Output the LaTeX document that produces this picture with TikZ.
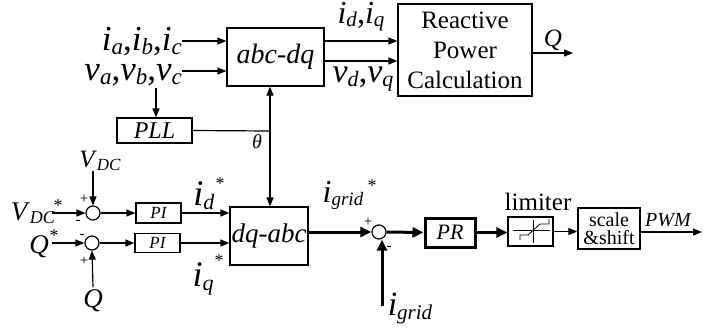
\documentclass[tikz,border=0pt]{standalone}
\usepackage{fontspec}
\setmainfont{Liberation Serif}
\usetikzlibrary{arrows.meta,calc}
\newcommand{\vsub}[3][22]{\textit{#2}\raisebox{-0.12em}{\fontsize{#1}{#1}\selectfont\textit{#3}}}
\begin{document}
\begin{tikzpicture}[x=1pt,y=-1pt,
  blk/.style={draw,line width=1.2pt,minimum width=#1,inner sep=0pt},
  sumc/.style={draw,circle,line width=1.2pt,minimum size=14pt,inner sep=0pt},
  conn/.style={line width=1.2pt,-{Triangle[length=9pt,width=7pt]}},
  thk/.style={line width=3pt,-{Triangle[length=11pt,width=10pt]}},
  lbl/.style={inner sep=0pt},
  sgn/.style={inner sep=0pt,font=\fontsize{15}{15}\selectfont}]
\useasboundingbox (0,0) rectangle (727,330);
% blocks
\node[blk=97pt,minimum height=58pt,font=\fontsize{28}{28}\selectfont\itshape] (abc) at (275.5,57) {abc-dq};
\node[blk=134pt,minimum height=92pt,align=center,font=\fontsize{25}{30}\selectfont] (rpc) at (465,50) {Reactive\\Power\\Calculation};
\node[blk=75pt,minimum height=25pt,font=\fontsize{24}{24}\selectfont\itshape] (pll) at (154.5,130.5) {PLL};
\node[blk=78pt,minimum height=58pt,font=\fontsize{27}{27}\selectfont\itshape] (dq) at (269,236) {dq-abc};
\node[sumc] (s1) at (93,213) {};
\node[sumc] (s2) at (92,243) {};
\node[blk=45pt,minimum height=20pt,font=\fontsize{17}{17}\selectfont\itshape] (pi1) at (158.5,213) {PI};
\node[blk=45pt,minimum height=19pt,font=\fontsize{17}{17}\selectfont\itshape] (pi2) at (157.5,243) {PI};
\node[sumc] (s3) at (379,232) {};
\node[blk=50pt,minimum height=29pt,line width=3pt,font=\fontsize{22}{22}\selectfont\itshape] (pr) at (450,232.5) {PR};
\node[blk=45pt,minimum height=29pt] (lim) at (530.5,231.5) {};
\node[blk=62pt,minimum height=41pt,align=center,font=\fontsize{20}{19}\selectfont] (ss) at (609,228.5) {scale\\[-1pt]\&shift};
% limiter icon
\draw[line width=0.8pt] (513,230) -- (550,230);
\draw[line width=0.8pt] (533,220) -- (533,243);
\draw[line width=0.8pt] (520,240) -- (520,235) -- (528,235) -- (540,224) -- (549,224) -- (549,219);
% labels
\node[lbl,anchor=base east,font=\fontsize{35}{35}\selectfont] (iabc) at (182,50) {\vsub[23]{i}{a},\vsub[23]{i}{b},\vsub[23]{i}{c}};
\node[lbl,anchor=base east,font=\fontsize{35}{35}\selectfont] (vabc) at (182,80) {\vsub[23]{v}{a},\vsub[23]{v}{b},\vsub[23]{v}{c}};
\node[lbl,anchor=base,font=\fontsize{32}{32}\selectfont] (idq) at (361,23) {\vsub[21]{i}{d},\vsub[21]{i}{q}};
\node[lbl,anchor=base,font=\fontsize{34}{34}\selectfont] (vdq) at (363,82) {\vsub[22]{v}{d},\vsub[22]{v}{q}};
\node[lbl,anchor=base,font=\fontsize{25}{25}\selectfont\itshape] (qout) at (553,46) {Q};
\node[lbl,font=\fontsize{20}{20}\selectfont\itshape] (th) at (257,142) {θ};
\node[lbl,anchor=base,font=\fontsize{25}{25}\selectfont] (vdc) at (100,167) {\vsub[17]{V}{DC}};
\node[lbl,anchor=base,font=\fontsize{27}{27}\selectfont] (vdcs) at (33,220) {\vsub[18]{V}{DC}};
\node[lbl,font=\fontsize{18}{18}\selectfont] (vdcst) at (58,206) {*};
\node[lbl,anchor=base,font=\fontsize{27}{27}\selectfont\itshape] (qs) at (39,253) {Q};
\node[lbl,font=\fontsize{18}{18}\selectfont] (qst) at (54,236) {*};
\node[lbl,anchor=base,font=\fontsize{27}{27}\selectfont\itshape] (qb) at (93,307) {Q};
\node[lbl,anchor=base,font=\fontsize{36}{36}\selectfont] (ids) at (204,205) {\vsub[22]{i}{d}};
\node[lbl,font=\fontsize{18}{18}\selectfont] (idst) at (220,184) {*};
\node[lbl,anchor=base,font=\fontsize{36}{36}\selectfont] (iqs) at (203,286) {\vsub[22]{i}{q}};
\node[lbl,font=\fontsize{18}{18}\selectfont] (iqst) at (219,261) {*};
\node[lbl,anchor=base,font=\fontsize{32}{32}\selectfont] (igs) at (343,202) {\vsub[19]{i}{grid}};
\node[lbl,font=\fontsize{18}{18}\selectfont] (igst) at (372,186) {*};
\node[lbl,anchor=base,font=\fontsize{34}{34}\selectfont] (igb) at (410,315) {\vsub[21]{i}{grid}};
\node[lbl,anchor=base,font=\fontsize{25}{25}\selectfont] (limt) at (538,210) {limiter};
\node[lbl,anchor=base,font=\fontsize{20}{20}\selectfont\itshape] (pwm) at (668,226) {PWM};
% signs
\node[sgn] at (84,199) {+};
\node[sgn] at (78,222) {-};
\node[sgn] at (82,236) {-};
\node[sgn] at (84,261) {+};
\node[sgn] at (368,222) {+};
\node[sgn] at (389,248) {-};
% coordinates
\coordinate (vtap) at (156,88);
\coordinate (tj) at (270,131);
\coordinate (vdcin) at (52,213);
\coordinate (qsin) at (52,243);
\coordinate (qbtop) at (93,287);
\coordinate (vdcbot) at (93,171);
\coordinate (igbot) at (382,306);
\coordinate (qend) at (573,53);
\coordinate (pwmend) at (702,232);
% connectors
\draw[conn] (iabc.east |- 0,41) -- (abc.west |- 0,41);
\draw[conn] (iabc.east |- 0,71) -- (abc.west |- 0,71);
\draw[conn] (abc.east |- 0,41) -- (rpc.west |- 0,41);
\draw[conn] (abc.east |- 0,61) -- (rpc.west |- 0,61);
\draw[conn] (rpc.east |- qend) -- (qend);
\draw[conn] (vtap) -- (vtap |- pll.north);
\draw[line width=1.2pt] (pll.east) -- (tj);
\draw[conn] (tj) -- (tj |- abc.south);
\draw[conn] (tj) -- (tj |- dq.north);
\draw[conn] (vdcin) -- (s1.west);
\draw[conn] (vdcbot) -- (s1.north);
\draw[conn] (s1.east) -- (pi1.west);
\draw[conn] (pi1.east) -- (dq.west |- pi1.east);
\draw[conn] (qsin) -- (s2.west);
\draw[conn] (qbtop) -- (s2.south);
\draw[conn] (s2.east) -- (pi2.west);
\draw[conn] (pi2.east) -- (dq.west |- pi2.east);
\draw[thk] (dq.east |- s3.west) -- (s3.west);
\draw[thk] (igbot) -- (igbot |- s3.south);
\draw[thk] (s3.east) -- (pr.west);
\draw[thk] (pr.east) -- (lim.west |- pr.east);
\draw[conn] (lim.east) -- (ss.west |- lim.east);
\draw[conn] (ss.east |- pwmend) -- (pwmend);
\end{tikzpicture}
\end{document}
